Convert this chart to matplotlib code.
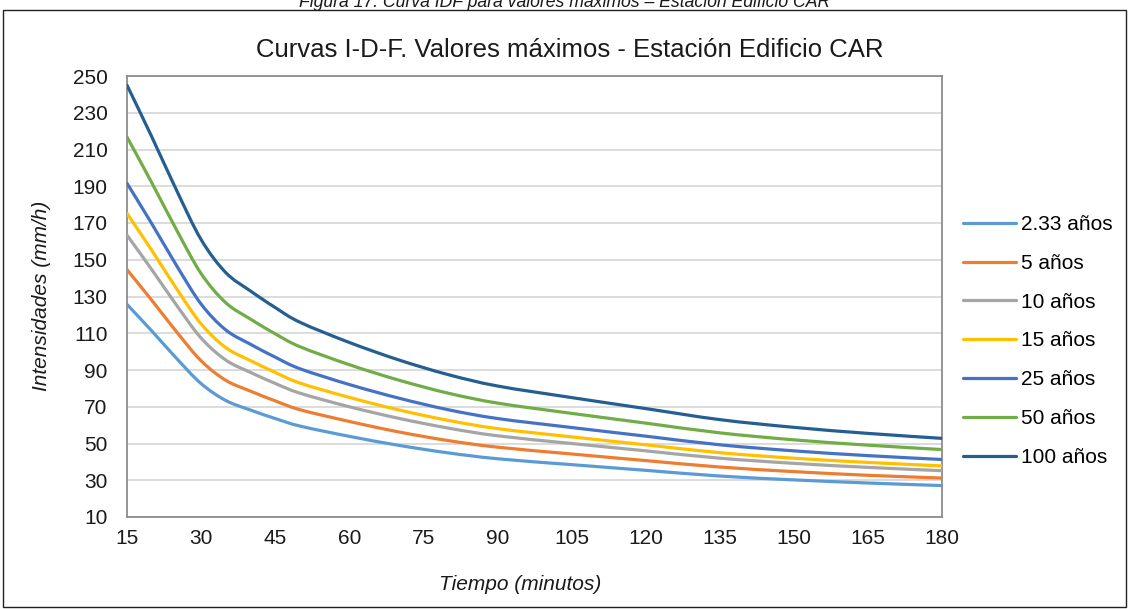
import numpy as np
import matplotlib
matplotlib.use('Agg')
import matplotlib.pyplot as plt
from matplotlib.path import Path
from matplotlib.patches import PathPatch, Rectangle
from matplotlib.lines import Line2D

plt.rcParams['font.family'] = ['Liberation Sans', 'DejaVu Sans']

# duracion (min)
tiempo = [15, 20, 25, 30, 35, 40, 45, 50, 60, 70, 80, 90, 105, 120, 135, 150, 165, 180]

# intensidades (mm/h) por periodo de retorno
i_233 = [125.7, 111.3, 96.4, 82.6, 73.4, 68.2, 63.6, 59.5, 53.9, 49.0, 44.9, 41.7, 38.5, 35.4, 32.3, 30.2, 28.5, 27.1]
i_5 = [144.6, 128.0, 110.9, 95.0, 84.4, 78.5, 73.2, 68.4, 62.0, 56.3, 51.6, 48.0, 44.3, 40.7, 37.2, 34.7, 32.7, 31.2]
i_10 = [163.4, 144.7, 125.4, 107.4, 95.4, 88.7, 82.7, 77.4, 70.0, 63.7, 58.4, 54.2, 50.0, 46.0, 42.0, 39.2, 37.0, 35.2]
i_15 = [175.2, 155.2, 134.4, 115.1, 102.2, 95.1, 88.7, 82.9, 75.1, 68.3, 62.6, 58.1, 53.6, 49.3, 45.0, 42.0, 39.7, 37.8]
i_25 = [191.6, 169.7, 147.0, 125.9, 111.8, 104.0, 97.0, 90.7, 82.1, 74.7, 68.4, 63.6, 58.7, 54.0, 49.3, 46.0, 43.4, 41.3]
i_50 = [216.8, 192.0, 166.4, 142.5, 126.6, 117.7, 109.7, 102.7, 92.9, 84.5, 77.4, 72.0, 66.4, 61.1, 55.8, 52.0, 49.1, 46.7]
i_100 = [245.0, 217.0, 188.0, 161.0, 143.0, 133.0, 124.0, 116.0, 105.0, 95.5, 87.5, 81.3, 75.0, 69.0, 63.0, 58.8, 55.5, 52.8]

series = [i_233, i_5, i_10, i_15, i_25, i_50, i_100]
etiquetas = ['2.33 años', '5 años', '10 años', '15 años', '25 años', '50 años', '100 años']
colores = ['#5B9BD5', '#ED7D31', '#A5A5A5', '#FFC000', '#4472C4', '#70AD47', '#255E91']


def linea_suave(ax, x, y, color):
    # curva tipo "linea suavizada" de Excel (Catmull-Rom -> Bezier)
    p = np.column_stack([x, y]).astype(float)
    n = len(p)
    verts = [p[0]]
    codes = [Path.MOVETO]
    for i in range(n - 1):
        p0 = p[i - 1] if i > 0 else p[i]
        p3 = p[i + 2] if i + 2 < n else p[i + 1]
        c1 = p[i] + (p[i + 1] - p0) / 6.0
        c2 = p[i + 1] - (p3 - p[i]) / 6.0
        verts += [c1, c2, p[i + 1]]
        codes += [Path.CURVE4] * 3
    ax.add_patch(PathPatch(Path(verts, codes), fill=False, edgecolor=color,
                           lw=2.3, capstyle='round', joinstyle='round', zorder=3))


fig = plt.figure(figsize=(11.29, 6.09), dpi=100)
ax = fig.add_axes([127 / 1129, 1 - 517 / 609, (942 - 127) / 1129, (517 - 76) / 609])

for y, c in zip(series, colores):
    linea_suave(ax, tiempo, y, c)

ax.set_xlim(15, 180)
ax.set_ylim(10, 250)
ax.set_xticks(np.arange(15, 181, 15))
ax.set_yticks(np.arange(10, 251, 20))
ax.tick_params(length=0, labelsize=15, colors='#1a1a1a')
ax.tick_params(axis='y', pad=14)
ax.tick_params(axis='x', pad=8.5)
ax.grid(axis='y', color='#d9d9d9', lw=1.3)
ax.set_axisbelow(True)
for s in ax.spines.values():
    s.set_color('#8c8c8c')
    s.set_linewidth(1.3)

handles = [Line2D([], [], color=c, lw=2.3, solid_capstyle='round') for c in colores]
fig.legend(handles, etiquetas, loc='center left', bbox_to_anchor=(963 / 1129, 1 - 341 / 609),
           frameon=False, fontsize=15, handlelength=2.55, handletextpad=0.25,
           labelspacing=0.95, borderpad=0, borderaxespad=0)

fig.text(0.505, 1 - 50 / 609, 'Curvas I-D-F. Valores máximos - Estación Edificio CAR',
         ha='center', va='center', fontsize=18.5, color='#1a1a1a')
fig.text(520 / 1129, 1 - 584 / 609, 'Tiempo (minutos)', ha='center', va='center',
         fontsize=15, style='italic', color='#1a1a1a')
fig.text(42 / 1129, 1 - 296 / 609, 'Intensidades (mm/h)', ha='center', va='center',
         rotation=90, fontsize=15, style='italic', color='#1a1a1a')
fig.text(0.5, 1 - 7 / 609, 'Figura 17. Curva IDF para valores máximos – Estación Edificio CAR',
         ha='center', va='baseline', fontsize=12.7, style='italic', color='#1a1a1a')

fig.add_artist(Rectangle((3 / 1129, 2 / 609), 1123 / 1129, (607 - 10) / 609,
                         transform=fig.transFigure, fill=False, edgecolor='#222222', lw=1))

fig.savefig('out.png', dpi=100)
